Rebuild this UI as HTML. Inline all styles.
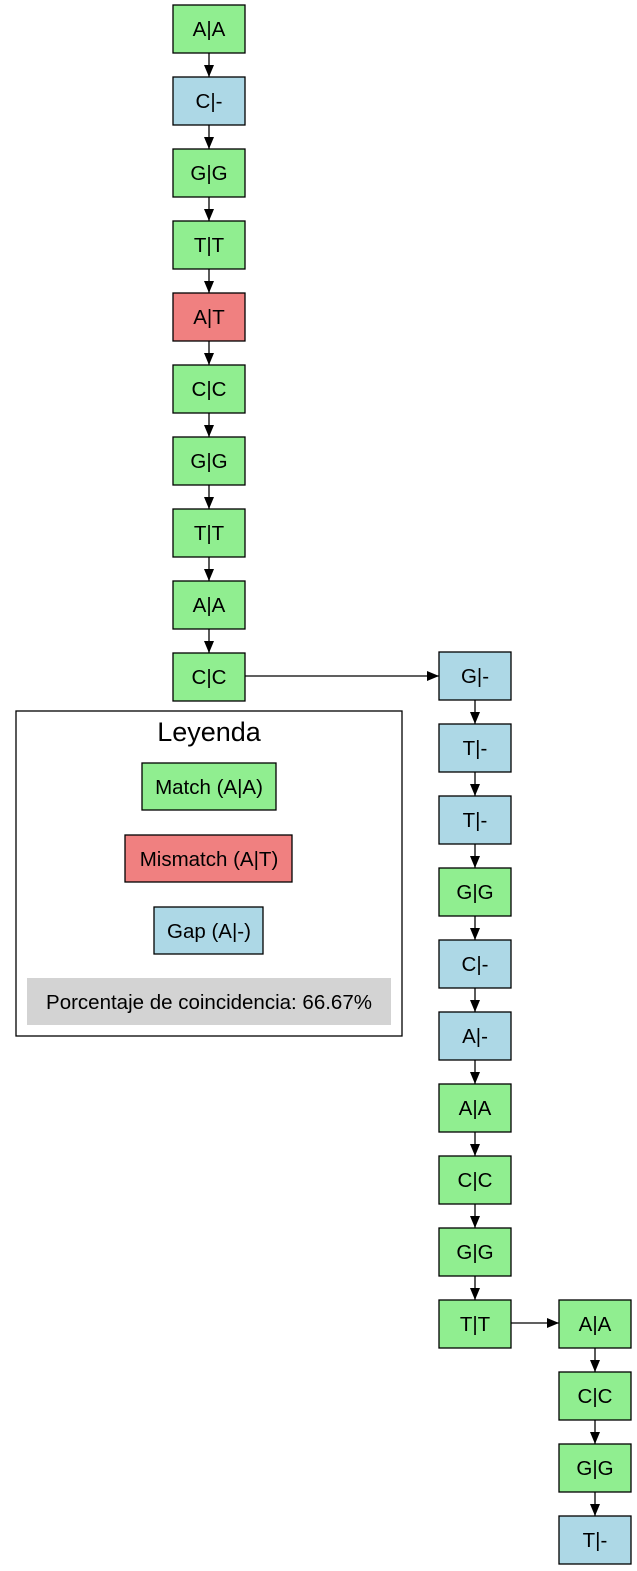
<!DOCTYPE html>
<html><head><meta charset="utf-8"><style>
html,body{margin:0;padding:0;background:#fff}
svg{display:block}
text{font-family:"Liberation Sans",Arial,sans-serif;font-size:20.5px;text-anchor:middle;fill:#000}
</style></head><body>
<svg width="637" height="1571" viewBox="0 0 637 1571" xmlns="http://www.w3.org/2000/svg">
<defs><marker id="ah" markerWidth="12" markerHeight="10" refX="12" refY="5" orient="auto" markerUnits="userSpaceOnUse"><path d="M0,0 L12,5 L0,10 Z" fill="#000"/></marker></defs>
<g stroke="#000" stroke-width="1.3">
<rect x="173" y="5" width="72" height="48" fill="#90ee90"/>
<rect x="173" y="77" width="72" height="48" fill="#add8e6"/>
<rect x="173" y="149" width="72" height="48" fill="#90ee90"/>
<rect x="173" y="221" width="72" height="48" fill="#90ee90"/>
<rect x="173" y="293" width="72" height="48" fill="#f08080"/>
<rect x="173" y="365" width="72" height="48" fill="#90ee90"/>
<rect x="173" y="437" width="72" height="48" fill="#90ee90"/>
<rect x="173" y="509" width="72" height="48" fill="#90ee90"/>
<rect x="173" y="581" width="72" height="48" fill="#90ee90"/>
<rect x="173" y="653" width="72" height="48" fill="#90ee90"/>
<rect x="439" y="652" width="72" height="48" fill="#add8e6"/>
<rect x="439" y="724" width="72" height="48" fill="#add8e6"/>
<rect x="439" y="796" width="72" height="48" fill="#add8e6"/>
<rect x="439" y="868" width="72" height="48" fill="#90ee90"/>
<rect x="439" y="940" width="72" height="48" fill="#add8e6"/>
<rect x="439" y="1012" width="72" height="48" fill="#add8e6"/>
<rect x="439" y="1084" width="72" height="48" fill="#90ee90"/>
<rect x="439" y="1156" width="72" height="48" fill="#90ee90"/>
<rect x="439" y="1228" width="72" height="48" fill="#90ee90"/>
<rect x="439" y="1300" width="72" height="48" fill="#90ee90"/>
<rect x="559" y="1300" width="72" height="48" fill="#90ee90"/>
<rect x="559" y="1372" width="72" height="48" fill="#90ee90"/>
<rect x="559" y="1444" width="72" height="48" fill="#90ee90"/>
<rect x="559" y="1516" width="72" height="48" fill="#add8e6"/>
<rect x="16" y="711" width="386" height="325" fill="none"/>
<rect x="142" y="763" width="134" height="47" fill="#90ee90"/>
<rect x="125" y="835" width="167" height="47" fill="#f08080"/>
<rect x="154" y="907" width="109" height="47" fill="#add8e6"/>
</g>
<rect x="27" y="978" width="364" height="47" fill="#d3d3d3"/>
<g stroke="#000" stroke-width="1.3" marker-end="url(#ah)">
<line x1="209" y1="53" x2="209" y2="77"/>
<line x1="209" y1="125" x2="209" y2="149"/>
<line x1="209" y1="197" x2="209" y2="221"/>
<line x1="209" y1="269" x2="209" y2="293"/>
<line x1="209" y1="341" x2="209" y2="365"/>
<line x1="209" y1="413" x2="209" y2="437"/>
<line x1="209" y1="485" x2="209" y2="509"/>
<line x1="209" y1="557" x2="209" y2="581"/>
<line x1="209" y1="629" x2="209" y2="653"/>
<line x1="245" y1="676" x2="439" y2="676"/>
<line x1="475" y1="700" x2="475" y2="724"/>
<line x1="475" y1="772" x2="475" y2="796"/>
<line x1="475" y1="844" x2="475" y2="868"/>
<line x1="475" y1="916" x2="475" y2="940"/>
<line x1="475" y1="988" x2="475" y2="1012"/>
<line x1="475" y1="1060" x2="475" y2="1084"/>
<line x1="475" y1="1132" x2="475" y2="1156"/>
<line x1="475" y1="1204" x2="475" y2="1228"/>
<line x1="475" y1="1276" x2="475" y2="1300"/>
<line x1="511" y1="1323" x2="559" y2="1323"/>
<line x1="595" y1="1348" x2="595" y2="1372"/>
<line x1="595" y1="1420" x2="595" y2="1444"/>
<line x1="595" y1="1492" x2="595" y2="1516"/>
</g>
<g>
<text x="209" y="36">A|A</text>
<text x="209" y="108">C|-</text>
<text x="209" y="180">G|G</text>
<text x="209" y="252">T|T</text>
<text x="209" y="324">A|T</text>
<text x="209" y="396">C|C</text>
<text x="209" y="468">G|G</text>
<text x="209" y="540">T|T</text>
<text x="209" y="612">A|A</text>
<text x="209" y="684">C|C</text>
<text x="475" y="683">G|-</text>
<text x="475" y="755">T|-</text>
<text x="475" y="827">T|-</text>
<text x="475" y="899">G|G</text>
<text x="475" y="971">C|-</text>
<text x="475" y="1043">A|-</text>
<text x="475" y="1115">A|A</text>
<text x="475" y="1187">C|C</text>
<text x="475" y="1259">G|G</text>
<text x="475" y="1331">T|T</text>
<text x="595" y="1331">A|A</text>
<text x="595" y="1403">C|C</text>
<text x="595" y="1475">G|G</text>
<text x="595" y="1547">T|-</text>
<text x="209" y="741" style="font-size:27px">Leyenda</text>
<text x="209" y="794">Match (A|A)</text>
<text x="209" y="866">Mismatch (A|T)</text>
<text x="209" y="938">Gap (A|-)</text>
<text x="209" y="1009">Porcentaje de coincidencia: 66.67%</text>
</g>
</svg>
</body></html>
